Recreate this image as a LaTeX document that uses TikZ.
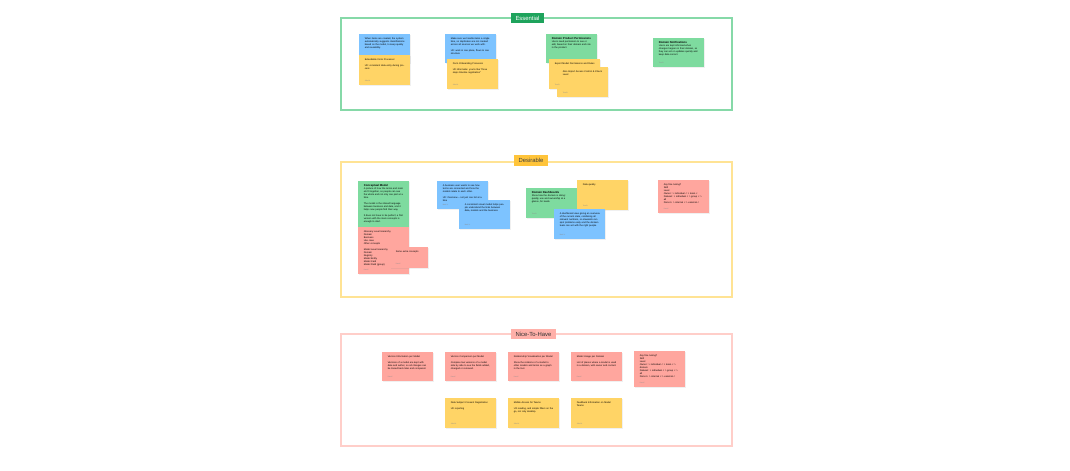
\documentclass[tikz,border=0pt]{standalone}
\usepackage{fontspec}
\setmainfont{Liberation Sans}
\usetikzlibrary{shadows, positioning}
\definecolor{essline}{HTML}{86D9A8}
\definecolor{esstag}{HTML}{1EA35C}
\definecolor{desline}{HTML}{FFE394}
\definecolor{destag}{HTML}{FFC43A}
\definecolor{niceline}{HTML}{FFCEC9}
\definecolor{nicetag}{HTML}{FFB0A9}
\definecolor{noteblue}{HTML}{7DC3FF}
\definecolor{noteyellow}{HTML}{FFD466}
\definecolor{notegreen}{HTML}{7EDB9F}
\definecolor{notered}{HTML}{FFA69E}
\newcommand{\notetitle}[1]{{\fontsize{2}{2.4}\selectfont\bfseries #1}}
\tikzset{
  frame/.style={draw=#1, line width=0.75pt},
  frametag/.style={
    rectangle, fill=#1, minimum height=0.26cm, inner xsep=3.4pt, inner ysep=0pt,
    font=\fontsize{4.2}{5}\selectfont
  },
  sticky/.style={
    rectangle, fill=#1, anchor=north west, text width=1cm, align=left,
    inner xsep=3.9pt, inner ysep=2pt, text height=1.5pt,
    font=\fontsize{1.7}{2.15}\selectfont,
    drop shadow={shadow xshift=0.4pt, shadow yshift=-0.5pt, opacity=0.12}
  },
  author/.style={
    anchor=south west, inner sep=0pt, text=black!45,
    font=\fontsize{1.2}{1.4}\selectfont
  }
}

\begin{document}
\begin{tikzpicture}[x=0.025cm, y=-0.025cm]
  \useasboundingbox (0,0) rectangle (1070,470);

  % Frames
  \draw[frame=essline] (341,18) rectangle (732,110);
  \draw[frame=desline] (341,162) rectangle (732,297);
  \draw[frame=niceline] (341,334) rectangle (732,446);
  \node[frametag=esstag, text=white] (essential) at (527.5,18) {Essential};
  \node[frametag=destag, text=black!75] (desirable) at (531,160.5) {Desirable};
  \node[frametag=nicetag, text=black!80] (nicetohave) at (533.5,334) {Nice-To-Have};

  % Essential
  \node[sticky=noteblue, text depth=15.1pt] (e1) at (359,34)
    {When items are created, the system automatically suggests classifications based on the model, to keep quality and reusability.};
  \node[sticky=noteyellow, text depth=15.8pt] (e2) at (359,55)
    {Extendable Form Processor\\[2.1pt] UX: consistent data entry during process};
  \node[sticky=noteblue, text depth=15.1pt] (e3) at (445,34)
    {Make sure we handle items a single time, so duplicates are not created across all sources we work with.\\[2.1pt] UX: work in one place, flows to one structure};
  \node[sticky=noteyellow, text depth=15.8pt] (e4) at (447,59)
    {Form Onboarding Processor\\[2.1pt] UX informatie: you're like ``three steps timeline registration''};
  \node[sticky=notegreen, text depth=15.1pt] (e5) at (546,34)
    {\notetitle{Domain Product Permissions}\\ Users need permission to see or edit, based on their domain and role in the product.};
  \node[sticky=noteyellow, text depth=15.8pt] (e6) at (549,59)
    {Export Model Permissions and Rules};
  \node[sticky=noteyellow, text depth=15.8pt] (e7) at (557,67)
    {Also Import Access Control \& Check Level};
  \node[sticky=notegreen, text depth=15.1pt] (e8) at (653,38)
    {\notetitle{Domain Notifications}\\ Users are kept informed when changes happen in their domain, so they can act on updates quickly and keep data correct.};

  % Desirable
  \node[sticky=notegreen, text depth=27.2pt] (d1) at (358,181)
    {\notetitle{Conceptual Model}\\ A picture of how the terms and models fit together, so people can see the whole and not only one part at a time.\\[2.1pt]
     The model is the shared language between business and data, and it helps new people find their way.\\[2.1pt]
     It does not have to be perfect; a first version with the main concepts is enough to start.};
  \node[sticky=notered, text depth=27.9pt] (d2) at (358,227)
    {Glossary Level Hierarchy\\ Domain\\ Business\\ Use case\\ Other concepts\\[2.1pt]
     Model Level Hierarchy\\ Domain\\ Registry\\ Model Entity\\ Model Card\\ Model Field (group)};
  \node[sticky=notered, text width=0.675cm, text depth=9.4pt] (d3) at (390,247)
    {Some extra concepts};
  \node[sticky=noteblue, text depth=14.4pt] (d4) at (437,181)
    {A business user wants to see how terms are connected and how the models relate to each other.\\[2.1pt] UX: Overview -- not just one list at a time};
  \node[sticky=noteblue, text depth=15.1pt] (d5) at (459,200)
    {A consistent visual model helps people understand the links between data, models and the business.};
  \node[sticky=notegreen, text depth=15.8pt] (d6) at (526,188)
    {\notetitle{Domain Dashboards}\\ Show how the domain is doing: quality, use and ownership at a glance, for leads.};
  \node[sticky=noteyellow, text depth=15.8pt] (d7) at (577,180)
    {Data quality};
  \node[sticky=noteblue, text depth=15.8pt] (d8) at (554,209)
    {A dashboard view giving an overview of the current state, combining all relevant numbers, so stewards can spot problems early and the domain team can act with the right people.};
  \node[sticky=notered, text depth=18pt] (d9) at (658,180)
    {Any fine tuning?\\ Skill\\ Level\\ Owner: > individual < > team <\\ Dataset: > individual < > group < > all\\ Person: > internal < > external <};

  % Nice-To-Have
  \node[sticky=notered, text depth=15.1pt] (n1) at (382,352)
    {Version Information per Model\\[2.1pt] Versions of a model are kept with date and author, so all changes can be traced back later and compared.};
  \node[sticky=notered, text depth=15.1pt] (n2) at (445,352)
    {Version Comparison per Model\\[2.1pt] Compare two versions of a model side by side to see the fields added, changed or removed.};
  \node[sticky=notered, text depth=15.1pt] (n3) at (508,352)
    {Relationship Visualisation per Model\\[2.1pt] Show the relations of a model to other models and terms as a graph in the tool.};
  \node[sticky=notered, text depth=15.1pt] (n4) at (571,352)
    {Model Usage per Domain\\[2.1pt] List of places where a model is used in a domain, with owner and contact.};
  \node[sticky=notered, text depth=20.1pt] (n5) at (634,351)
    {Any fine tuning?\\ Skill\\ Level\\ Owner: > individual < > team < > domain\\ Dataset: > individual < > group < > all\\ Person: > internal < > external <};
  \node[sticky=noteyellow, text depth=15.8pt] (n6) at (445,398)
    {Data Subject Consent Registration\\[2.1pt] UX reporting};
  \node[sticky=noteyellow, text depth=15.8pt] (n7) at (508,398)
    {Mobile Access for Teams\\[2.1pt] UX reading, and simple filters on the go, not only desktop.};
  \node[sticky=noteyellow, text depth=15.8pt] (n8) at (571,398)
    {Feedback Information on Model Teams};

  % Authors
  \foreach \n/\who in {e2/Julia M., e4/Julia M., e6/Tom B., e7/Tom B., e8/Tom B.,
      d2/Lisa K., d3/Lisa K., d4/Mark V., d5/Mark V., d6/Tom B., d7/Tom B., d8/Mark V., d9/Lisa K.,
      n1/Lisa K., n2/Lisa K., n3/Lisa K., n4/Lisa K., n5/Lisa K., n6/Julia M., n7/Julia M., n8/Julia M.}
    \node[author] at ([xshift=3.9pt, yshift=2.6pt]\n.south west) {\who};

\end{tikzpicture}
\end{document}
